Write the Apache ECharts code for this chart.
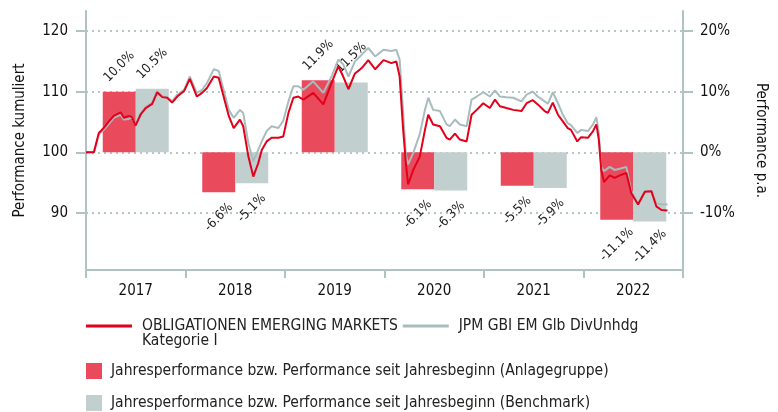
<!DOCTYPE html>
<html>
<head>
<meta charset="utf-8">
<script src="https://cdn.jsdelivr.net/npm/echarts@6.0.0/dist/echarts.min.js"></script>
<style>
html, body { margin: 0; padding: 0; background: #fff; }
#chart { width: 778px; height: 412px; }
</style>
</head>
<body>
<div id="chart"></div>
<script>
// Jahre und Jahresperformance (rechte Achse, %)
let years = ['2017', '2018', '2019', '2020', '2021', '2022'];
let perfFund = [10.0, -6.6, 11.9, -6.1, -5.5, -11.1];
let perfBench = [10.5, -5.1, 11.5, -6.3, -5.9, -11.4];

// kumulierte Performance (linke Achse, Start = 100)
let dates = [
    '2017-01-01', '2017-01-30', '2017-02-17', '2017-03-07', '2017-03-26', '2017-04-13', '2017-05-08', '2017-05-20',
    '2017-06-07', '2017-06-19', '2017-07-02', '2017-07-20', '2017-08-08', '2017-09-01', '2017-09-19', '2017-10-08',
    '2017-10-26', '2017-11-13', '2017-12-02', '2017-12-27', '2018-01-17', '2018-02-12', '2018-03-03', '2018-03-21',
    '2018-04-15', '2018-05-03', '2018-05-21', '2018-06-09', '2018-06-27', '2018-07-20', '2018-08-01', '2018-08-20',
    '2018-09-07', '2018-09-25', '2018-10-08', '2018-10-26', '2018-11-13', '2018-12-08', '2018-12-26', '2019-01-14',
    '2019-02-01', '2019-02-19', '2019-03-10', '2019-04-15', '2019-05-22', '2019-06-21', '2019-07-16', '2019-08-03',
    '2019-08-22', '2019-09-15', '2019-10-10', '2019-11-03', '2019-11-28', '2019-12-29', '2020-01-27', '2020-02-14',
    '2020-02-26', '2020-03-10', '2020-03-20', '2020-03-28', '2020-04-16', '2020-05-10', '2020-05-29', '2020-06-10',
    '2020-06-28', '2020-07-23', '2020-08-16', '2020-08-28', '2020-09-16', '2020-10-04', '2020-10-29', '2020-11-16',
    '2020-12-05', '2020-12-29', '2021-01-22', '2021-02-10', '2021-02-28', '2021-03-24', '2021-04-18', '2021-05-18',
    '2021-06-06', '2021-06-29', '2021-07-17', '2021-08-11', '2021-08-23', '2021-09-10', '2021-09-29', '2021-10-17',
    '2021-11-04', '2021-11-16', '2021-12-09', '2021-12-23', '2022-01-17', '2022-02-05', '2022-02-17', '2022-02-26',
    '2022-03-07', '2022-03-17', '2022-04-07', '2022-04-25', '2022-05-14', '2022-06-07', '2022-06-25', '2022-07-20',
    '2022-08-14', '2022-09-07', '2022-09-25', '2022-10-14', '2022-11-05'
];
let cumFund = [
    100.0, 100.0, 103.2, 104.0, 105.1, 106.0, 106.6, 105.7, 106.0, 105.8, 104.4, 106.2, 107.3, 108.0, 109.9, 109.1,
    109.0, 108.2, 109.2, 110.1, 112.1, 109.2, 109.8, 110.6, 112.5, 112.3, 109.2, 106.0, 104.0, 105.4, 104.3, 99.3,
    96.0, 98.2, 100.4, 101.8, 102.4, 102.4, 102.6, 106.5, 109.0, 109.2, 108.7, 109.8, 107.9, 111.4, 114.2, 112.5,
    110.4, 113.0, 113.9, 115.2, 113.7, 115.2, 114.7, 115.0, 112.5, 103.7, 98.2, 94.7, 97.1, 99.3, 103.7, 106.2,
    104.6, 104.3, 102.4, 102.1, 103.1, 102.1, 101.8, 106.2, 107.0, 108.1, 107.3, 108.7, 107.6, 107.3, 107.0, 106.8,
    108.1, 108.6, 107.9, 106.8, 106.5, 108.2, 106.2, 105.1, 104.0, 103.7, 101.8, 102.5, 102.4, 103.5, 104.6, 102.1,
    97.1, 95.1, 96.2, 95.8, 96.2, 96.6, 93.3, 91.4, 93.5, 93.6, 91.1, 90.5, 90.4
];
let cumBench = [
    100.0, 100.0, 102.9, 103.7, 104.7, 105.7, 106.2, 105.4, 105.5, 105.8, 104.6, 106.4, 107.5, 108.2, 110.1, 109.2,
    109.1, 108.4, 109.5, 110.3, 112.5, 109.8, 110.3, 111.4, 113.7, 113.4, 110.3, 107.0, 105.7, 107.0, 106.5, 101.5,
    98.5, 100.4, 101.8, 103.5, 104.3, 104.0, 105.2, 108.4, 110.9, 110.9, 110.3, 111.7, 109.8, 112.5, 115.3, 114.5,
    112.5, 115.0, 116.1, 117.2, 115.8, 116.9, 116.7, 116.9, 115.3, 106.5, 99.6, 98.0, 99.9, 103.0, 107.0, 109.0,
    107.0, 106.8, 104.6, 104.3, 105.4, 104.6, 104.3, 108.7, 109.2, 109.9, 109.2, 110.2, 109.2, 109.1, 109.0, 108.4,
    109.5, 110.0, 109.2, 108.4, 108.0, 109.9, 108.1, 106.2, 104.8, 104.5, 103.2, 103.7, 103.5, 104.6, 105.8, 103.2,
    97.6, 96.9, 97.6, 97.1, 97.3, 97.6, 93.6, 91.6, 93.6, 93.6, 91.6, 91.4, 91.4
];

// Achsenbeschriftungen
let leftTicks = [90, 100, 110, 120];
let rightTicks = [-10, 0, 10, 20];

let fundName = 'OBLIGATIONEN EMERGING MARKETS\nKategorie I';
let benchName = 'JPM GBI EM Glb DivUnhdg';
let barFundName = 'Jahresperformance bzw. Performance seit Jahresbeginn (Anlagegruppe)';
let barBenchName = 'Jahresperformance bzw. Performance seit Jahresbeginn (Benchmark)';

let axisColor = '#b0c3c3';
let fontFamily = '"DejaVu Sans Condensed", "DejaVu Sans", sans-serif';

function barData(arr) {
    return arr.map(function (v) {
        return { value: v, label: { position: v >= 0 ? 'top' : 'bottom' } };
    });
}

function lineData(vals) {
    return dates.map(function (d, i) { return [d, vals[i]]; });
}

let barLabel = {
    show: true,
    rotate: 45,
    align: 'center',
    verticalAlign: 'middle',
    distance: 25,
    fontSize: 13,
    color: '#222',
    formatter: function (p) { return p.value.toFixed(1) + '%'; }
};

let legendText = { fontSize: 15.5, color: '#222', fontFamily: fontFamily };

let myChart = echarts.init(document.getElementById('chart'));

let option = {
    animation: false,
    textStyle: { fontFamily: fontFamily },
    grid: { left: 86, right: 95, top: 11, bottom: 142, containLabel: false },
    legend: [{
        // Linien
        left: 81,
        top: 313,
        icon: 'rect',
        itemWidth: 46,
        itemHeight: 3,
        itemGap: 5,
        data: [fundName, benchName],
        formatter: function (name) { return name.split('\n')[0]; },
        textStyle: Object.assign({ padding: [0, 0, 0, 5] }, legendText)
    }, {
        // Balken Anlagegruppe
        left: 81,
        top: 358,
        icon: 'rect',
        itemWidth: 16,
        itemHeight: 16,
        data: [barFundName],
        textStyle: Object.assign({ padding: [0, 0, 0, 4] }, legendText)
    }, {
        // Balken Benchmark
        left: 81,
        top: 390,
        icon: 'rect',
        itemWidth: 16,
        itemHeight: 16,
        data: [barBenchName],
        textStyle: Object.assign({ padding: [0, 0, 0, 4] }, legendText)
    }],
    graphic: [{
        type: 'text',
        left: 142,
        top: 333,
        style: { text: 'Kategorie I', fontSize: 15.5, fill: '#222', fontFamily: fontFamily }
    }],
    xAxis: [{
        type: 'category',
        data: years,
        boundaryGap: true,
        axisLine: { onZero: false, lineStyle: { color: axisColor, width: 2 } },
        axisTick: { show: true, length: 8, lineStyle: { color: axisColor, width: 2 } },
        axisLabel: { fontSize: 15, color: '#111', margin: 14 },
        splitLine: { show: false }
    }, {
        type: 'time',
        min: '2017-01-01',
        max: '2023-01-01',
        show: false
    }],
    yAxis: [{
        type: 'value',
        position: 'left',
        min: 80.6,
        max: 123.3,
        name: 'Performance kumuliert',
        nameLocation: 'middle',
        nameGap: 58,
        nameTextStyle: { fontSize: 15, color: '#111' },
        axisLine: { show: true, lineStyle: { color: axisColor, width: 2 } },
        axisTick: { show: true, length: 10, customValues: leftTicks, lineStyle: { color: axisColor, width: 2 } },
        axisLabel: { fontSize: 15, color: '#111', margin: 18, customValues: leftTicks },
        splitLine: {
            show: true,
            lineStyle: { color: '#b5c6c6', width: 2, type: [2, 4] }
        }
    }, {
        type: 'value',
        position: 'right',
        min: -19.4,
        max: 23.3,
        name: 'Performance p.a.',
        nameLocation: 'middle',
        nameRotate: -90,
        nameGap: 70,
        nameTextStyle: { fontSize: 15, color: '#111' },
        axisLine: { show: true, lineStyle: { color: axisColor, width: 2 } },
        axisTick: { show: true, length: 10, customValues: rightTicks, lineStyle: { color: axisColor, width: 2 } },
        axisLabel: { fontSize: 15, color: '#111', margin: 17, customValues: rightTicks, formatter: '{value}%' },
        splitLine: { show: false }
    }],
    series: [{
        name: barFundName,
        type: 'bar',
        xAxisIndex: 0,
        yAxisIndex: 1,
        barWidth: 33,
        barGap: '0%',
        itemStyle: { color: '#e94b5d' },
        label: barLabel,
        data: barData(perfFund)
    }, {
        name: barBenchName,
        type: 'bar',
        xAxisIndex: 0,
        yAxisIndex: 1,
        barWidth: 33,
        barGap: '0%',
        itemStyle: { color: '#c2cfcf' },
        label: barLabel,
        data: barData(perfBench)
    }, {
        name: benchName,
        type: 'line',
        xAxisIndex: 1,
        yAxisIndex: 0,
        symbol: 'none',
        z: 3,
        lineStyle: { color: '#a9bcbc', width: 2 },
        itemStyle: { color: '#a9bcbc' },
        data: lineData(cumBench)
    }, {
        name: fundName,
        type: 'line',
        xAxisIndex: 1,
        yAxisIndex: 0,
        symbol: 'none',
        z: 4,
        lineStyle: { color: '#e2001a', width: 2 },
        itemStyle: { color: '#e2001a' },
        data: lineData(cumFund)
    }]
};

myChart.setOption(option);
</script>
</body>
</html>
